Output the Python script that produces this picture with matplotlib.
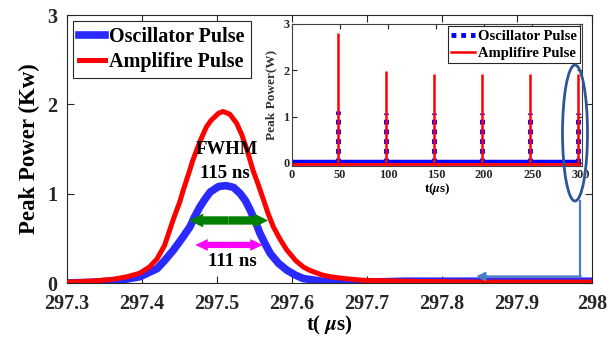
import matplotlib
matplotlib.use("Agg")
import matplotlib.pyplot as plt
from matplotlib.patches import Ellipse
from matplotlib.lines import Line2D

plt.rcParams['font.family'] = ['Liberation Serif', 'DejaVu Serif']
plt.rcParams['font.weight'] = 'bold'
plt.rcParams['mathtext.fontset'] = 'stix'

# main plot: zoom on last pulse (t in us, power in kW)
amp_t = [297.300, 297.330, 297.360, 297.380, 297.397, 297.410, 297.420, 297.430,
         297.442, 297.450, 297.455, 297.462, 297.468, 297.478, 297.486, 297.492,
         297.502, 297.508, 297.517, 297.526, 297.533, 297.540, 297.548, 297.555,
         297.562, 297.568, 297.575, 297.584, 297.593, 297.605, 297.615, 297.624,
         297.640, 297.651, 297.670, 297.695, 297.750, 297.850, 298.000]
amp_p = [0.01, 0.02, 0.04, 0.07, 0.11, 0.18, 0.27, 0.42,
         0.72, 0.90, 1.04, 1.22, 1.38, 1.60, 1.75, 1.82,
         1.90, 1.92, 1.89, 1.79, 1.66, 1.49, 1.26, 1.10,
         0.93, 0.78, 0.63, 0.49, 0.37, 0.25, 0.18, 0.14,
         0.09, 0.07, 0.05, 0.03, 0.02, 0.01, 0.01]

osc_t = [297.300, 297.340, 297.370, 297.397, 297.420, 297.430, 297.442, 297.455,
         297.464, 297.470, 297.477, 297.484, 297.491, 297.502, 297.512, 297.522,
         297.531, 297.538, 297.544, 297.551, 297.557, 297.564, 297.571, 297.582,
         297.593, 297.604, 297.615, 297.640, 297.700, 297.750, 298.000]
osc_p = [0.00, 0.01, 0.03, 0.07, 0.16, 0.25, 0.37, 0.52,
         0.63, 0.74, 0.85, 0.94, 1.02, 1.08, 1.09, 1.07,
         1.00, 0.92, 0.82, 0.69, 0.56, 0.44, 0.33, 0.22,
         0.145, 0.09, 0.05, 0.02, 0.01, 0.02, 0.02]

# inset: whole pulse train
pulse_t = [47.5, 97.5, 147.5, 197.5, 247.5, 297.5]
amp_peaks = [2.80, 1.99, 1.92, 1.92, 1.92, 1.92]
osc_peaks = [1.11, 1.08, 1.08, 1.08, 1.08, 1.08]

fig = plt.figure(figsize=(6.11, 3.42), dpi=100)
ax = fig.add_axes([0.1097, 0.1725, 0.8593, 0.7836])

ax.plot(osc_t, osc_p, color='#2a2aff', lw=5.5, label='Oscillator Pulse', zorder=2)
ax.plot(amp_t, amp_p, color='#ff0000', lw=3.6, label='Amplifire Pulse', zorder=3)

ax.set_xlim(297.3, 298)
ax.set_ylim(0, 3)
ax.set_xticks([297.3, 297.4, 297.5, 297.6, 297.7, 297.8, 297.9, 298])
ax.set_xticklabels(['297.3', '297.4', '297.5', '297.6', '297.7', '297.8', '297.9', '298'])
ax.set_yticks([0, 1, 2, 3])
ax.tick_params(direction='in', length=5, width=0.8, labelsize=14.5, top=True, right=True,
               colors='#262626')
ax.tick_params(axis='x', pad=8)
ax.tick_params(axis='y', pad=7)
for s in ax.spines.values():
    s.set_color('#262626')
ax.set_xlabel('t( $\\mu$s)', fontsize=15, fontweight='bold', labelpad=0)
ax.set_ylabel('Peak Power (Kw)', fontsize=16.5, fontweight='bold', labelpad=5)

leg = ax.legend(loc='upper left', bbox_to_anchor=(0.0, 1.0), fontsize=14.5,
                handlelength=1.3, handletextpad=0.2, borderpad=0.3, labelspacing=0.25,
                borderaxespad=0.3, fancybox=False, edgecolor='#262626', framealpha=1)
leg.get_frame().set_linewidth(0.8)

# FWHM annotations
ax.text(297.513, 1.49, 'FWHM', ha='center', va='center', fontsize=13.5, fontweight='bold')
ax.text(297.511, 1.23, '115 ns', ha='center', va='center', fontsize=13.5, fontweight='bold')
ax.text(297.521, 0.24, '111 ns', ha='center', va='center', fontsize=13.5, fontweight='bold')

def double_arrow(x0, x1, y, color, tail, head_w, head_l):
    xc = (x0 + x1) / 2
    for xe in (x0, x1):
        ax.annotate('', xy=(xe, y), xytext=(xc, y),
                    arrowprops=dict(arrowstyle='simple,head_length=%g,head_width=%g,tail_width=%g'
                                    % (head_l, head_w, tail),
                                    color=color, lw=0, shrinkA=0, shrinkB=0,
                                    mutation_scale=10), zorder=4)

double_arrow(297.463, 297.568, 0.70, '#007f00', 0.6, 1.0, 1.0)
double_arrow(297.471, 297.561, 0.426, '#ff00ff', 0.45, 0.85, 0.9)

# inset
ins = fig.add_axes([0.478, 0.515, 0.475, 0.415])
ins.hlines(0.03, 0, 300, color='#0000ff', lw=2.5, zorder=2)
ins.hlines(-0.015, 0, 300, color='#ff0000', lw=2.0, zorder=3)
ins.vlines(pulse_t, 0, osc_peaks, color='#0000ff', lw=3.5, linestyles=(0, (1, 1)),
           zorder=2)
ins.vlines(pulse_t, 0, amp_peaks, color='#ff0000', lw=1.8, zorder=3)
ins.set_xlim(0, 302)
ins.set_ylim(-0.065, 3)
ins.set_xticks([0, 50, 100, 150, 200, 250, 300])
ins.set_yticks([0, 1, 2, 3])
ins.tick_params(direction='in', length=3.5, width=0.8, labelsize=8.8, top=True, right=True,
                colors='#262626', pad=2)
for s in ins.spines.values():
    s.set_color('#404040')
ins.set_xlabel('t($\\mu$s)', fontsize=9.5, fontweight='bold', labelpad=0)
ins.set_ylabel('Peak Power(W)', fontsize=9.5, fontweight='bold', labelpad=4, color='#333333')

h1 = Line2D([], [], color='#0000ff', lw=3.5, linestyle=(0, (1, 1)))
h2 = Line2D([], [], color='#ff0000', lw=1.8)
leg2 = ins.legend([h1, h2], ['Oscillator Pulse', 'Amplifire Pulse'], loc='upper right',
                  fontsize=10.5, handlelength=1.6, handletextpad=0.2, borderpad=0.25,
                  labelspacing=0.25, borderaxespad=0.15, fancybox=False,
                  edgecolor='#262626', framealpha=1)
leg2.get_frame().set_linewidth(0.8)

# ellipse marking the last pulse and connector arrow (figure pixels -> fraction)
W, H = 611.0, 342.0
fig.add_artist(Ellipse((575 / W, 1 - 133 / H), 25 / W, 136 / H, fill=False,
                       edgecolor='#2f5597', lw=2.0, transform=fig.transFigure, zorder=10))
fig.add_artist(Line2D([580 / W, 580 / W], [1 - 201 / H, 1 - 276.5 / H], color='#4a7ec8',
                      lw=1.6, transform=fig.transFigure, zorder=10))
ax.annotate('', xy=(476 / W, 1 - 276.5 / H), xytext=(580.8 / W, 1 - 276.5 / H),
            xycoords='figure fraction', textcoords='figure fraction',
            arrowprops=dict(arrowstyle='-|>,head_length=0.5,head_width=0.25',
                            color='#4a7ec8', lw=1.6, shrinkA=0, shrinkB=0,
                            mutation_scale=10), zorder=10)

fig.savefig('out.png', dpi=100)
